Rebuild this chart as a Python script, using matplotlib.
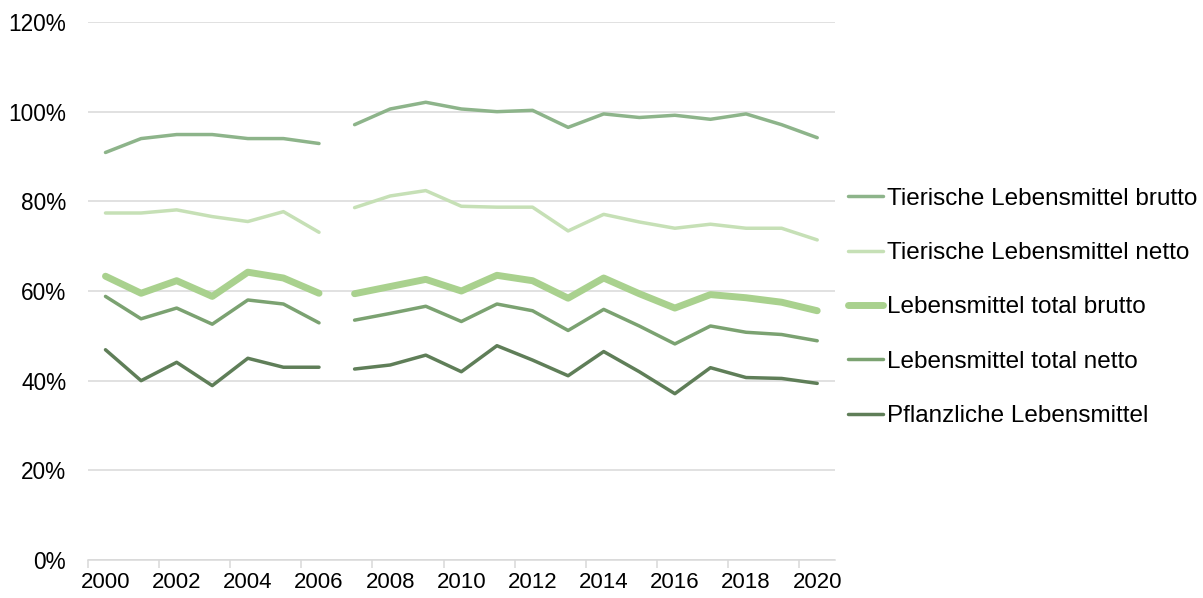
import matplotlib.pyplot as plt
import numpy as np

plt.rcParams['font.family'] = ['Liberation Sans', 'DejaVu Sans']

jahre = list(range(2000, 2021))
bruch = 7  # Datenreihe unterbrochen zwischen 2006 und 2007

tierisch_brutto = [90.9, 94.0, 94.9, 94.9, 94.0, 94.0, 92.9,
                   97.1, 100.6, 102.1, 100.6, 100.0, 100.3, 96.5, 99.5, 98.7, 99.2, 98.3, 99.5, 97.1, 94.2]
tierisch_netto = [77.4, 77.4, 78.1, 76.6, 75.5, 77.7, 73.1,
                  78.6, 81.2, 82.4, 78.9, 78.7, 78.7, 73.4, 77.1, 75.4, 74.0, 74.9, 74.0, 74.0, 71.4]
total_brutto = [63.3, 59.5, 62.3, 58.8, 64.2, 62.9, 59.5,
                59.4, 61.0, 62.6, 60.0, 63.5, 62.3, 58.4, 62.9, 59.4, 56.2, 59.2, 58.5, 57.5, 55.6]
total_netto = [58.8, 53.8, 56.2, 52.6, 58.0, 57.1, 52.9,
               53.5, 55.0, 56.6, 53.2, 57.1, 55.6, 51.2, 55.9, 52.2, 48.2, 52.2, 50.8, 50.3, 48.9]
pflanzlich = [46.9, 40.0, 44.1, 38.9, 45.0, 43.0, 43.0,
              42.6, 43.5, 45.7, 42.0, 47.8, 44.6, 41.1, 46.5, 42.0, 37.1, 42.9, 40.7, 40.5, 39.4]

reihen = [
    ('Tierische Lebensmittel brutto', tierisch_brutto, '#8db48a', 2.5),
    ('Tierische Lebensmittel netto', tierisch_netto, '#c6e0b6', 2.5),
    ('Lebensmittel total brutto', total_brutto, '#a9d18e', 5.0),
    ('Lebensmittel total netto', total_netto, '#7ba271', 2.5),
    ('Pflanzliche Lebensmittel', pflanzlich, '#5f7e58', 2.5),
]

fig = plt.figure(figsize=(12.03, 5.98), dpi=100)
ax = fig.add_axes([0.0729, 0.0635, 0.6212, 0.8997])

x = np.arange(len(jahre))
for name, werte, farbe, lw in reihen:
    w = np.array(werte)
    ax.plot(x[:bruch], w[:bruch], color=farbe, lw=lw, solid_capstyle='round',
            solid_joinstyle='round', label=name)
    ax.plot(x[bruch:], w[bruch:], color=farbe, lw=lw, solid_capstyle='round',
            solid_joinstyle='round')

ax.set_xlim(-0.5, len(jahre) - 0.5)
ax.set_ylim(0, 120)
ax.set_yticks(np.arange(0, 121, 20))
ax.set_yticklabels([f'{v}%' for v in range(0, 121, 20)])
ax.yaxis.grid(True, color='#d9d9d9', lw=1.1)
ax.set_axisbelow(True)
ax.tick_params(axis='y', length=0, pad=15.5, labelsize=16.3)

ax.set_xticks(x[::2])
ax.set_xticklabels([str(j) for j in jahre[::2]])
ax.set_xticks(np.arange(-0.5, len(jahre) - 1, 2), minor=True)
ax.tick_params(axis='x', which='major', length=0, pad=8.5, labelsize=16)
ax.tick_params(axis='x', which='minor', length=6, color='#d9d9d9', width=1.1)

for s in ['top', 'right', 'left']:
    ax.spines[s].set_visible(False)
ax.spines['bottom'].set_color('#d9d9d9')
ax.spines['bottom'].set_linewidth(1.1)

leg = fig.legend(loc='upper left', bbox_to_anchor=(0.705, 0.686), frameon=False,
                 fontsize=17.5, handlelength=1.44, handletextpad=0.15,
                 labelspacing=1.33, borderpad=0, borderaxespad=0)

fig.savefig('out.png', dpi=100)
